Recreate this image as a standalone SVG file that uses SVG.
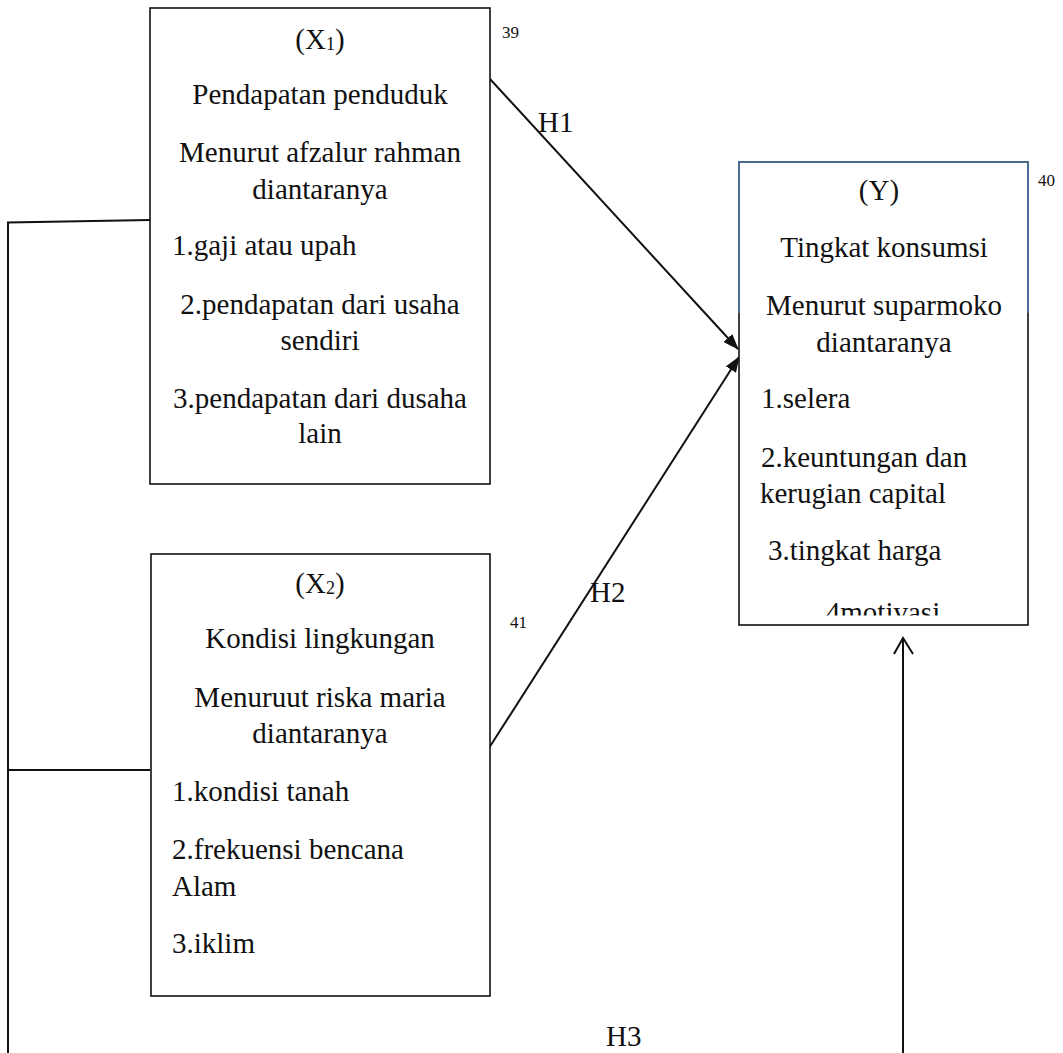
<svg xmlns="http://www.w3.org/2000/svg" width="1063" height="1053" viewBox="0 0 1063 1053">
<style>
text{font-family:"Liberation Serif","Times New Roman",serif;font-size:29px;fill:#111}
.c{text-anchor:middle}
.n{font-size:17px}
.sub{font-size:18px}
.box{fill:#fff;stroke:#111;stroke-width:1.6}
.ln{fill:none;stroke:#111;stroke-width:2}
</style>
<defs>
<marker id="ah" viewBox="0 0 16 12" refX="15" refY="6" markerWidth="16" markerHeight="12" markerUnits="userSpaceOnUse" orient="auto">
<path d="M0,0 L16,6 L0,12 Z" fill="#111"/>
</marker>
<clipPath id="yclip"><rect x="739" y="162" width="289" height="453.5"/></clipPath>
</defs>

<g id="connectors">
<path class="ln" d="M8,1053 V222.5 L150,220"/>
<path class="ln" d="M8,770 H150"/>
<line class="ln" x1="490" y1="79" x2="738" y2="349" marker-end="url(#ah)"/>
<line class="ln" x1="489" y1="748" x2="739" y2="357" marker-end="url(#ah)"/>
<path class="ln" d="M903,1053 V638 M894,654 L903,638 L913,654"/>
<text x="538" y="132">H1</text>
<text x="590" y="602">H2</text>
<text x="606" y="1046">H3</text>
</g>

<g id="nodeX1">
<rect class="box" x="150" y="8" width="340" height="476"/>
<text class="c" x="320" y="49">(X<tspan class="sub" dy="1">1</tspan><tspan dy="-1">)</tspan></text>
<text class="c" x="320" y="104">Pendapatan penduduk</text>
<text class="c" x="320" y="162">Menurut afzalur rahman</text>
<text class="c" x="320" y="199">diantaranya</text>
<text x="172" y="255">1.gaji atau upah</text>
<text class="c" x="320" y="314">2.pendapatan dari usaha</text>
<text class="c" x="320" y="350">sendiri</text>
<text class="c" x="320" y="408">3.pendapatan dari dusaha</text>
<text class="c" x="320" y="443">lain</text>
<text class="n" x="502" y="38">39</text>
</g>

<g id="nodeX2">
<rect class="box" x="151" y="554" width="339" height="442"/>
<text class="c" x="320" y="593">(X<tspan class="sub" dy="1">2</tspan><tspan dy="-1">)</tspan></text>
<text class="c" x="320" y="648">Kondisi lingkungan</text>
<text class="c" x="320" y="707">Menuruut riska maria</text>
<text class="c" x="320" y="743">diantaranya</text>
<text x="172" y="801">1.kondisi tanah</text>
<text x="172" y="859">2.frekuensi bencana</text>
<text x="172" y="896">Alam</text>
<text x="172" y="953">3.iklim</text>
<text class="n" x="510" y="628">41</text>
</g>

<g id="nodeY">
<rect class="box" x="739" y="162" width="289" height="463"/>
<path d="M739,313 V162 H1028 V313" fill="none" stroke="#4a78a8" stroke-width="1.6"/>
<text class="c" x="879" y="200">(Y)</text>
<text class="c" x="884" y="257">Tingkat konsumsi</text>
<text class="c" x="884" y="315">Menurut suparmoko</text>
<text class="c" x="884" y="352">diantaranya</text>
<text x="761" y="408">1.selera</text>
<text x="761" y="467">2.keuntungan dan</text>
<text x="760" y="503">kerugian capital</text>
<text x="768" y="560">3.tingkat harga</text>
<text class="c" x="883" y="622" clip-path="url(#yclip)">4motivasi</text>
<text class="n" x="1038" y="186">40</text>
</g>
</svg>
